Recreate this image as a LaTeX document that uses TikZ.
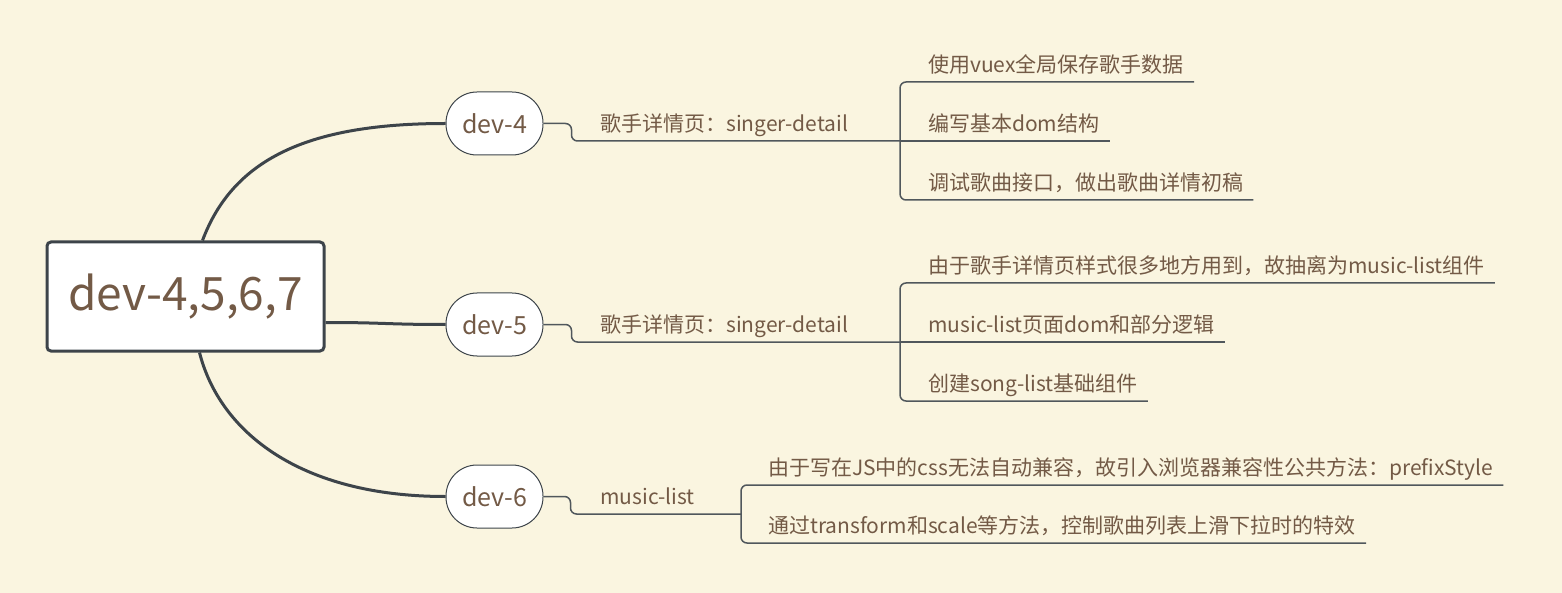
\documentclass[tikz,border=0pt]{standalone}
\usepackage{fontspec}
\newfontfamily\cjk{Noto Sans CJK SC}
\usepackage{tikz}
\usetikzlibrary{arrows, arrows.meta}

\definecolor{paper}{HTML}{FAF5E0}
\definecolor{ink}{HTML}{735A46}
\definecolor{slate}{HTML}{3D444A}

\begin{document}
\begin{tikzpicture}[x=1pt, y=-1pt,
	rootbox/.style={draw=slate, line width=3pt, fill=white, rounded corners=4pt, minimum width=277pt, minimum height=109pt, text=ink, font=\cjk\fontsize{46}{50}\selectfont},
	pill/.style={draw=slate, line width=1pt, fill=white, rounded corners=31pt, minimum width=97pt, minimum height=63pt, text=ink, font=\cjk\fontsize{25}{28}\selectfont},
	leaf/.style={anchor=south west, inner xsep=10pt, inner ysep=9pt, text depth=0pt, text=ink, font=\cjk\fontsize{21}{24}\selectfont},
	limb/.style={draw=slate, line width=3pt},
	twig/.style={draw=slate!90, line width=1.5pt, rounded corners=6pt}]
	\fill[paper] (0,0) rectangle (1562,593);
	\useasboundingbox (0,0) rectangle (1562,593);
	
	%topics
	\node[rootbox] (root) at (185.5,296.5) {dev-4,5,6,7};
	\node[pill] (n4) at (494.5,123.5) {dev-4};
	\node[pill] (n5) at (494.5,324.5) {dev-5};
	\node[pill] (n6) at (494.5,496.5) {dev-6};
	
	%subtopics
	\node[leaf] (s4) at (590,141) {歌手详情页：singer-detail};
	\node[leaf] (s5) at (590,342) {歌手详情页：singer-detail};
	\node[leaf] (s6) at (590,514) {music-list};
	
	%details
	\node[leaf] (l4a) at (918,82)  {使用vuex全局保存歌手数据};
	\node[leaf] (l4b) at (918,141) {编写基本dom结构};
	\node[leaf] (l4c) at (918,200) {调试歌曲接口，做出歌曲详情初稿};
	\node[leaf] (l5a) at (918,283) {由于歌手详情页样式很多地方用到，故抽离为music-list组件};
	\node[leaf] (l5b) at (918,342) {music-list页面dom和部分逻辑};
	\node[leaf] (l5c) at (918,401) {创建song-list基础组件};
	\node[leaf] (l6a) at (758,485) {由于写在JS中的css无法自动兼容，故引入浏览器兼容性公共方法：prefixStyle};
	\node[leaf] (l6b) at (758,543) {通过transform和scale等方法，控制歌曲列表上滑下拉时的特效};
	
	\coordinate (b4) at (900,141);
	\coordinate (b5) at (900,342);
	\coordinate (b6) at (741,514);
	
	%root to topics
	\draw[limb] ([xshift=17pt]root.north) .. controls +(30,-80) and +(-140,0) .. (n4.west);
	\draw[limb] ([yshift=-26pt]root.east) .. controls +(60,0) and +(-60,0) .. (n5.west);
	\draw[limb] ([xshift=14pt]root.south) .. controls +(20,79) and +(-146,0) .. (n6.west);
	
	%topics to subtopics
	\draw[twig] (n4.east) -- ++(28,0) |- (b4);
	\draw[twig] (n5.east) -- ++(28,0) |- (b5);
	\draw[twig] (n6.east) -- ++(27,0) |- (b6);
	
	%brackets
	\draw[twig] (l4a.south east) -| (b4) |- (l4c.south east);
	\draw[twig] (b4) -- (l4b.south east);
	\draw[twig] (l5a.south east) -| (b5) |- (l5c.south east);
	\draw[twig] (b5) -- (l5b.south east);
	\draw[twig] (l6a.south east) -| (b6) |- (l6b.south east);
	%\draw[help lines] (0,0) grid (1562,593);
\end{tikzpicture}
\end{document}
